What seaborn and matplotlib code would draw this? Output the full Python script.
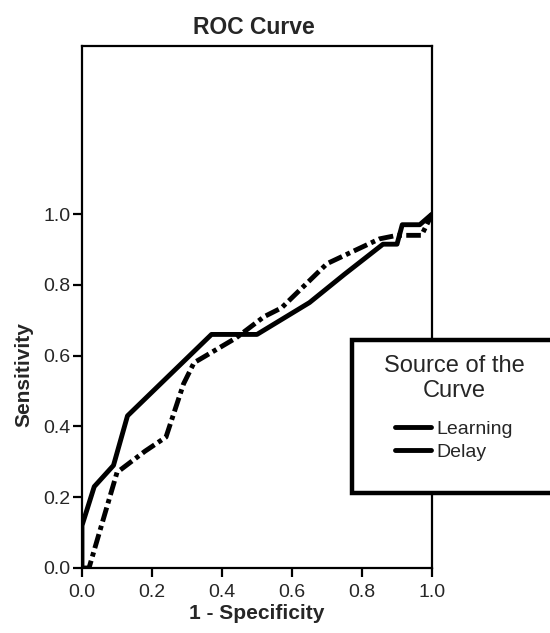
import numpy as np
import pandas as pd
import seaborn as sns
import matplotlib.pyplot as plt
from matplotlib.lines import Line2D
from matplotlib.patches import Rectangle

# === data ===
learn_fpr = [0.0, 0.0, 0.035, 0.09, 0.13, 0.37, 0.50, 0.65, 0.75, 0.86, 0.90, 0.915, 0.965, 1.0]
learn_tpr = [0.0, 0.12, 0.23, 0.29, 0.43, 0.66, 0.66, 0.75, 0.83, 0.915, 0.915, 0.97, 0.97, 1.0]

delay_fpr = [0.0, 0.02, 0.10, 0.14, 0.18, 0.24, 0.29, 0.32, 0.44, 0.52, 0.57, 0.70, 0.85, 0.90, 0.97, 1.0]
delay_tpr = [0.0, 0.0, 0.27, 0.30, 0.33, 0.37, 0.52, 0.58, 0.65, 0.71, 0.735, 0.86, 0.93, 0.94, 0.94, 1.0]

curve_names = ["Learning", "Delay"]
ticks = [0.0, 0.2, 0.4, 0.6, 0.8, 1.0]

df = pd.concat([
    pd.DataFrame({"fpr": learn_fpr, "tpr": learn_tpr, "curve": "Learning"}),
    pd.DataFrame({"fpr": delay_fpr, "tpr": delay_tpr, "curve": "Delay"}),
], ignore_index=True)

# === plot ===
sns.set_style("white")
plt.rcParams["font.family"] = ["Liberation Sans", "DejaVu Sans"]

fig = plt.figure(figsize=(5.5, 6.33), dpi=100)
ax = fig.add_axes([82 / 550, 1 - 568 / 633, 350 / 550, 522 / 633])

dash_map = {"Learning": "", "Delay": (3.0, 0.9, 0.9, 0.9)}
sns.lineplot(data=df, x="fpr", y="tpr", style="curve", dashes=dash_map,
             estimator=None, sort=False, units="curve", color="black",
             linewidth=3.5, legend=False, ax=ax)

ax.set_xlim(0, 1.0)
ax.set_ylim(0, 1.475)
ax.set_xticks(ticks)
ax.set_yticks(ticks)
ax.set_xticklabels([f"{t:.1f}" for t in ticks], fontsize=14)
ax.set_yticklabels([f"{t:.1f}" for t in ticks], fontsize=14)
ax.tick_params(direction="out", length=6.5, width=1.6, color="black",
               pad=2, bottom=True, left=True)
ax.tick_params(axis="x", pad=5)
for sp in ax.spines.values():
    sp.set_linewidth(1.6)
    sp.set_color("black")

ax.set_xlabel("1 - Specificity", fontsize=15, fontweight="bold", labelpad=2)
ax.set_ylabel("Sensitivity", fontsize=15, fontweight="bold")
ax.yaxis.set_label_coords(-0.14, 0.37)
ax.set_title("ROC Curve", fontsize=16.5, fontweight="bold", pad=9, x=0.49)

# legend box that runs off the right edge
box = Rectangle((352 / 550, 1 - 493 / 633), 0.45, 153 / 633,
                transform=fig.transFigure, facecolor="white",
                edgecolor="black", linewidth=3.2, zorder=3)
fig.add_artist(box)

handles = [Line2D([], [], color="black", linewidth=3.5, label=n) for n in curve_names]
leg = fig.legend(handles=handles, title="Source of the\nCurve",
                 loc="center", bbox_to_anchor=(454 / 550, 1 - 408 / 633),
                 frameon=False, fontsize=14, title_fontsize=17,
                 handlelength=1.85, handletextpad=0.3, labelspacing=0.3,
                 borderpad=0)
leg._legend_box.align = "center"
leg._legend_box.sep = 13
leg.get_title().set_multialignment("center")
leg.set_zorder(5)

fig.savefig("out.png", dpi=100, facecolor="white")
